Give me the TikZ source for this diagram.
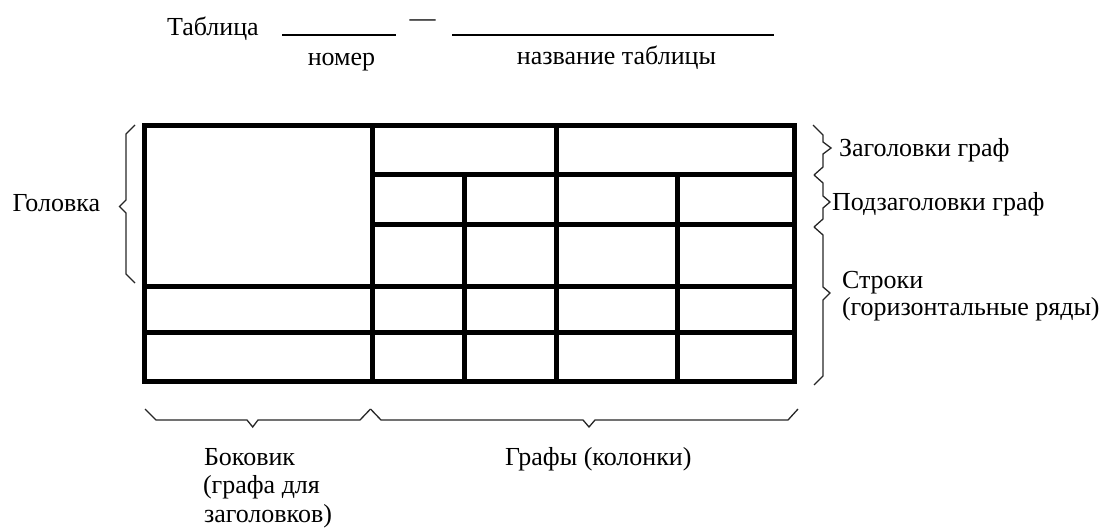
\documentclass[tikz,border=0pt]{standalone}
\usepackage{fontspec}
\setmainfont{Liberation Serif}
\begin{document}
\begin{tikzpicture}[x=1pt,y=-1pt,
  lbl/.style={inner sep=0pt,outer sep=0pt,anchor=base west,font=\fontsize{26}{29}\selectfont},
  clbl/.style={lbl,anchor=base},
  grid/.style={line width=5pt,line cap=rect,line join=miter},
  brace/.style={line width=1.3pt,line join=miter,draw=black!85},
  blank/.style={line width=2pt}]
\useasboundingbox (0,0) rectangle (1099,529);
% title line
\node[lbl] (tab) at (167,36) {Таблица};
\coordinate (n1) at (282,35);
\coordinate (n2) at (396,35);
\draw[blank] (n1) -- (n2);
\node[clbl] (dash) at (422.5,27) {—};
\coordinate (t1) at (452,35);
\coordinate (t2) at (774,35);
\draw[blank] (t1) -- (t2);
\node[clbl] (nom) at (341.5,66) {номер};
\node[clbl] (naz) at (616.5,65) {название таблицы};
% table
\draw[grid] (144,126) rectangle (794,381);
\draw[grid] (372.5,126) -- (372.5,381);
\draw[grid] (556.5,126) -- (556.5,381);
\draw[grid] (464,175) -- (464,381);
\draw[grid] (677.5,175) -- (677.5,381);
\draw[grid] (372.5,175) -- (794,175);
\draw[grid] (372.5,225) -- (794,225);
\draw[grid] (144,286) -- (794,286);
\draw[grid] (144,332) -- (794,332);
% left brace
\draw[brace] (135,125) -- (126,134) -- (126,200) -- (119.5,206.5) -- (126,213) -- (126,274) -- (135,283);
\node[lbl] (gol) at (12.7,211.7) {Головка};
% right braces
\draw[brace] (813,125) -- (823,135) -- (823,142) -- (831,148) -- (823,154) -- (823,167) -- (814,175);
\draw[brace] (814,175) -- (823,183) -- (823,196) -- (830,202) -- (823,208) -- (823,219) -- (814,227);
\draw[brace] (814,227) -- (823,235) -- (823,287) -- (830,293) -- (823,300) -- (823,376) -- (814,385);
\node[lbl] (zag) at (839,157) {Заголовки граф};
\node[lbl] (pod) at (832,211) {Подзаголовки граф};
\node[lbl] (str) at (842,288) {Строки};
\node[lbl] (gor) at (842,315) {(горизонтальные ряды)};
% bottom braces
\draw[brace] (145,409) -- (156,420) -- (247,420) -- (252.7,427) -- (258,420) -- (360,420) -- (370.5,409);
\draw[brace] (370.5,409) -- (381,420) -- (583,420) -- (589,427) -- (595,420) -- (788,420) -- (798,409);
\node[lbl] (bok1) at (204,465) {Боковик};
\node[lbl] (bok2) at (203,493) {(графа для};
\node[lbl] (bok3) at (204,522) {заголовков)};
\node[lbl] (grf) at (505,465) {Графы (колонки)};
\end{tikzpicture}
\end{document}
